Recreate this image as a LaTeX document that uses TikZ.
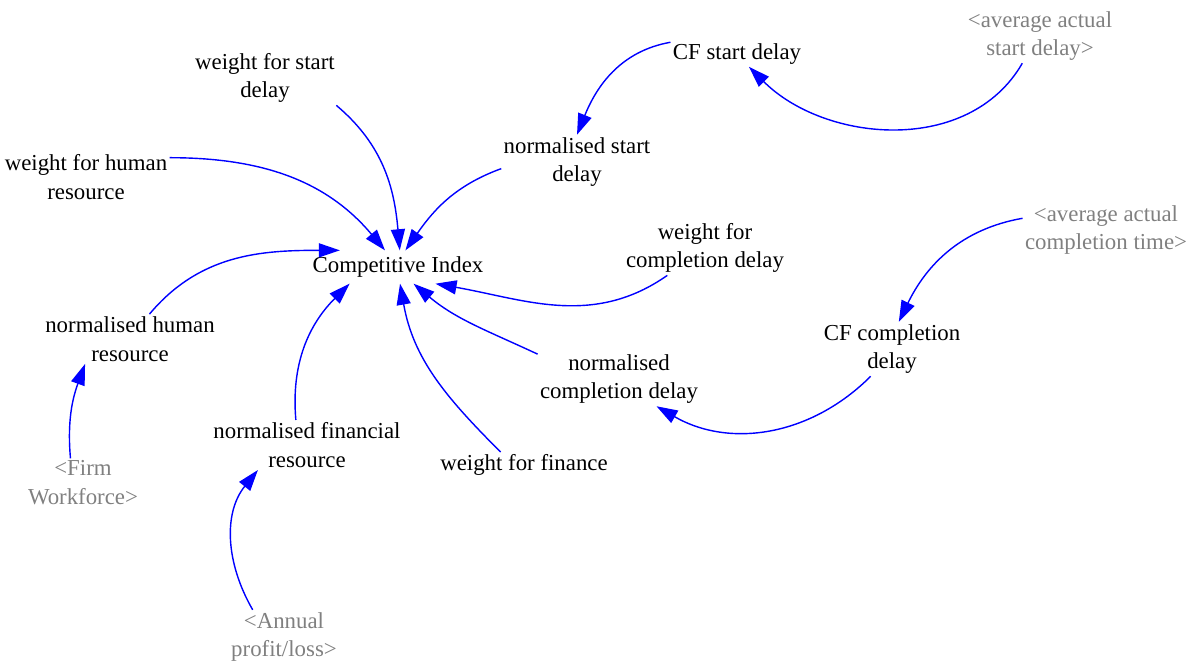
\documentclass[tikz,border=0pt]{standalone}
\usepackage{fontspec}
\setmainfont{Liberation Serif}
\usetikzlibrary{arrows.meta}
\definecolor{linkblue}{RGB}{0,0,255}
\definecolor{shadowgray}{RGB}{128,128,128}
\begin{document}
\begin{tikzpicture}[x=0.02cm, y=0.02cm,
  var/.style={align=center, inner sep=1.2pt, font=\fontsize{13}{16.4}\selectfont},
  shadow/.style={var, text=shadowgray},
  link/.style={linkblue, line width=0.8pt, -{Triangle[length=12pt,width=8pt]}}]
\useasboundingbox (0,2) rectangle (1196,-661);

% variables
\node[var, inner ysep=3.4pt] (ci) at (398,-265) {Competitive Index};
\node[var] (wsd) at (265,-76) {weight for start\\delay};
\node[var] (nsd) at (577,-160) {normalised start\\delay};
\node[var] (cfsd) at (737,-52) {CF start delay};
\node[shadow] (aasd) at (1040,-34) {<average actual\\start delay>};
\node[var] (wfhr) at (86,-175) {weight for human\\resource};
\node[var] (nhr) at (130,-337) {normalised human\\resource};
\node[shadow] (fw) at (83,-481) {<Firm\\Workforce>};
\node[var] (nfr) at (307,-443) {normalised financial\\resource};
\node[shadow] (apl) at (284,-635) {<Annual\\profit/loss>};
\node[var] (wf) at (524,-463) {weight for finance};
\node[var] (ncd) at (619,-377) {normalised\\completion delay};
\node[var] (wcd) at (705,-246) {weight for\\completion delay};
\node[var] (cfcd) at (892,-347) {CF completion\\delay};
\node[shadow] (aact) at (1106,-228) {<average actual\\completion time>};

% links into the index
\draw[link] (wsd.-21) to[out=-40, in=95] (ci.84);
\draw[link] (wfhr.13) to[out=0, in=130] (ci.128);
\draw[link] (nsd.185) to[out=200, in=55] (ci.66);
\draw[link] (nhr.52) to[out=50, in=180] (ci.164);
\draw[link] (nfr.114) to[out=95, in=225] (ci.199);
\draw[link] (wf.151) to[out=135, in=-80] (ci.-83);
\draw[link] (ncd.163) to[out=155, in=-40] (ci.-47);
\draw[link] (wcd.216) to[out=215, in=-10] (ci.-24);

% other links
\draw[link] (cfsd.170) to[out=190, in=68] (nsd.90);
\draw[link] (aasd.237) to[out=240, in=-45] (cfsd.-47);
\draw[link] (aact.172) to[out=190, in=64] (cfcd.76);
\draw[link] (cfcd.232) to[out=225, in=-30] (ncd.-36);
\draw[link] (fw.117) to[out=95, in=-110] (nhr.209);
\draw[link] (apl.139) to[out=120, in=231] (nfr.207);
\end{tikzpicture}
\end{document}
